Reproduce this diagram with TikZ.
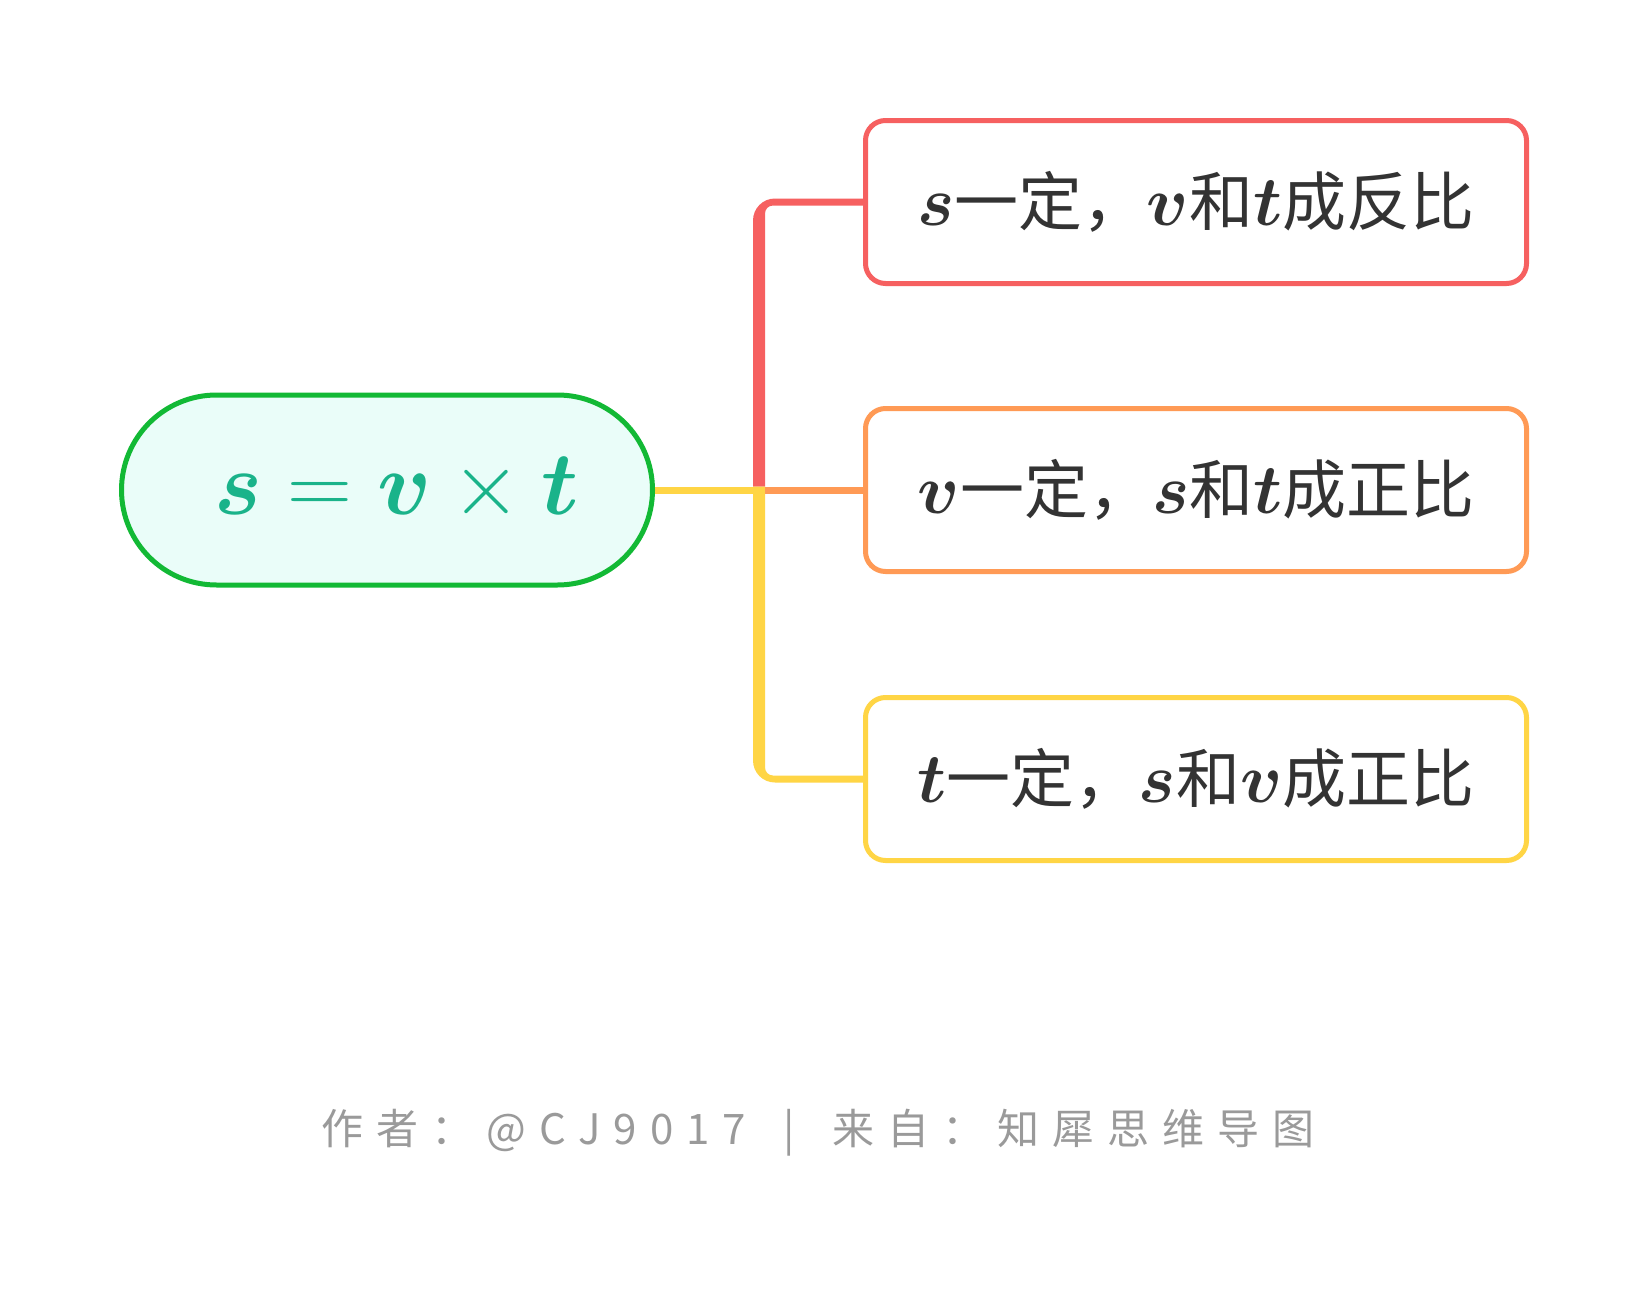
\RequirePackage{fix-cm}
\documentclass[tikz,border=0pt]{standalone}
\usepackage{amsmath}
\usepackage{fontspec}
\newfontfamily\cjk{Noto Sans CJK SC}
\newfontfamily\footfont[LetterSpace=31]{Noto Sans CJK SC}

% scalable bold math italic and bold symbols
\DeclareFontShape{OML}{cmm}{b}{it}{<->cmmib10}{}
\DeclareFontShape{OMS}{cmsy}{b}{n}{<->cmbsy10}{}

\definecolor{rootline}{HTML}{12B935}
\definecolor{rootfill}{HTML}{EAFDF9}
\definecolor{roottext}{HTML}{1AB38A}
\definecolor{redc}{HTML}{F66060}
\definecolor{orangec}{HTML}{FF9A55}
\definecolor{yellowc}{HTML}{FFD545}
\definecolor{inkc}{HTML}{333333}
\definecolor{footc}{HTML}{9A9A9A}

% bold italic math letter, a little larger than the Chinese text around it
\newcommand{\bv}[1]{{\fontsize{70}{76}\selectfont$\boldsymbol{#1}$}}

\pgfdeclarelayer{background}
\pgfsetlayers{background,main}

\tikzset{
  rootbox/.style={draw=rootline, fill=rootfill, line width=5pt,
    rounded corners=95pt, minimum width=531pt, minimum height=190pt,
    inner sep=0pt, text=roottext, font=\fontsize{90}{100}\selectfont},
  leafbox/.style={draw=#1, fill=white, line width=5pt, rounded corners=20pt,
    minimum width=661pt, minimum height=163pt, inner sep=0pt,
    text=inkc, font=\fontsize{64}{72}\selectfont},
  thinline/.style={line width=7pt, #1},
  footer/.style={text=footc, font=\footfont\fontsize{42}{46}\selectfont}
}

\begin{document}
\begin{tikzpicture}[x=1pt,y=-1pt]
  \useasboundingbox (0,0) rectangle (1650,1290);

  % central formula and the three cases
  \node[rootbox] (root) at (387,490)
    {\hspace*{20pt}$\boldsymbol{s} = \boldsymbol{v} \times \boldsymbol{t}$};
  \node[leafbox=redc]    (b1) at (1196,202) {\bv{s}{\cjk 一定，}\bv{v}{\cjk 和}\bv{t}{\cjk 成反比}};
  \node[leafbox=orangec] (b2) at (1196,490) {\bv{v}{\cjk 一定，}\bv{s}{\cjk 和}\bv{t}{\cjk 成正比}};
  \node[leafbox=yellowc] (b3) at (1196,779) {\bv{t}{\cjk 一定，}\bv{s}{\cjk 和}\bv{v}{\cjk 成正比}};

  % branching point on the trunk
  \coordinate (j) at (759,490);

  \begin{pgfonlayer}{background}
    \fill[white] (0,0) rectangle (1650,1290);

    % upper branch (red): thick trunk tapering into the thin arm
    \fill[redc] (753,486.5) [rounded corners=22pt] -- (753,198.5)
      -- ([xshift=30pt,yshift=3.5pt]b1.west) -- ([xshift=30pt,yshift=-3.5pt]b1.west)
      [rounded corners=8pt] -- (765,205.5) [sharp corners] -- (765,486.5) -- cycle;

    % lower branch (yellow)
    \fill[yellowc] (753,486.5) [rounded corners=22pt] -- (753,782.5)
      -- ([xshift=30pt,yshift=-3.5pt]b3.west) -- ([xshift=30pt,yshift=3.5pt]b3.west)
      [rounded corners=8pt] -- (765,775.5) [sharp corners] -- (765,486.5) -- cycle;

    % stem from the formula (yellow) and middle branch (orange)
    \draw[thinline=yellowc] (root.east) -- (j);
    \draw[thinline=orangec] ([xshift=6pt]j) -- ([xshift=20pt]b2.west);
  \end{pgfonlayer}

  % credits line
  \node[footer] (credit) at (818,1133)
    {作者：@CJ9017\hspace{15pt} | \hspace{15pt}来自：知犀思维导图};
\end{tikzpicture}
\end{document}
